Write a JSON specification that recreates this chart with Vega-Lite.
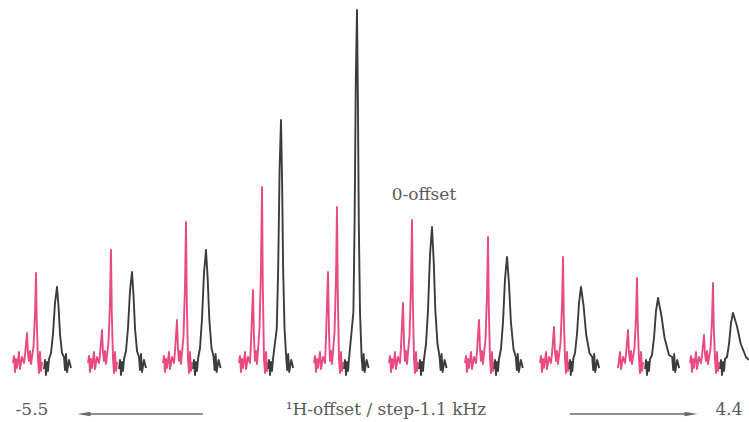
{
"$schema":"https://vega.github.io/schema/vega-lite/v6.json",
"width":749,"height":422,"padding":0,
"autosize":{"type":"fit","contains":"padding"},
"background":"#ffffff",
"config":{"view":{"stroke":null}},
"datasets":{
"spec":[
{"s":"p1","c":"pink","x":13,"y":2},{"s":"p1","c":"pink","x":14,"y":9},{"s":"p1","c":"pink","x":15,"y":-7},{"s":"p1","c":"pink","x":16,"y":6},{"s":"p1","c":"pink","x":17,"y":-3},{"s":"p1","c":"pink","x":19,"y":13},{"s":"p1","c":"pink","x":20,"y":-4},{"s":"p1","c":"pink","x":22,"y":8},{"s":"p1","c":"pink","x":24,"y":2},{"s":"p1","c":"pink","x":25,"y":10},{"s":"p1","c":"pink","x":27,"y":32},{"s":"p1","c":"pink","x":28,"y":11},{"s":"p1","c":"pink","x":29,"y":4},{"s":"p1","c":"pink","x":30,"y":14},{"s":"p1","c":"pink","x":31,"y":1},{"s":"p1","c":"pink","x":33.5,"y":18},{"s":"p1","c":"pink","x":35,"y":51},{"s":"p1","c":"pink","x":36,"y":92},{"s":"p1","c":"pink","x":36.8,"y":41},{"s":"p1","c":"pink","x":38,"y":6},{"s":"p1","c":"pink","x":39,"y":-8},{"s":"p1","c":"pink","x":40,"y":13},{"s":"p1","c":"pink","x":41,"y":-6},{"s":"p1","c":"pink","x":42,"y":3},
{"s":"p2","c":"pink","x":88,"y":2},{"s":"p2","c":"pink","x":89,"y":9},{"s":"p2","c":"pink","x":90,"y":-7},{"s":"p2","c":"pink","x":91,"y":6},{"s":"p2","c":"pink","x":92,"y":-3},{"s":"p2","c":"pink","x":94,"y":13},{"s":"p2","c":"pink","x":95,"y":-4},{"s":"p2","c":"pink","x":97,"y":8},{"s":"p2","c":"pink","x":99,"y":2},{"s":"p2","c":"pink","x":100,"y":11},{"s":"p2","c":"pink","x":102,"y":35},{"s":"p2","c":"pink","x":103,"y":12},{"s":"p2","c":"pink","x":104,"y":4},{"s":"p2","c":"pink","x":105,"y":14},{"s":"p2","c":"pink","x":106,"y":1},{"s":"p2","c":"pink","x":108.5,"y":23},{"s":"p2","c":"pink","x":110,"y":63},{"s":"p2","c":"pink","x":111,"y":115},{"s":"p2","c":"pink","x":111.8,"y":52},{"s":"p2","c":"pink","x":113,"y":6},{"s":"p2","c":"pink","x":114,"y":-8},{"s":"p2","c":"pink","x":115,"y":13},{"s":"p2","c":"pink","x":116,"y":-6},{"s":"p2","c":"pink","x":117,"y":3},
{"s":"p3","c":"pink","x":163,"y":2},{"s":"p3","c":"pink","x":164,"y":9},{"s":"p3","c":"pink","x":165,"y":-7},{"s":"p3","c":"pink","x":166,"y":6},{"s":"p3","c":"pink","x":167,"y":-3},{"s":"p3","c":"pink","x":169,"y":13},{"s":"p3","c":"pink","x":170,"y":-4},{"s":"p3","c":"pink","x":172,"y":8},{"s":"p3","c":"pink","x":174,"y":2},{"s":"p3","c":"pink","x":175,"y":14},{"s":"p3","c":"pink","x":177,"y":45},{"s":"p3","c":"pink","x":178,"y":16},{"s":"p3","c":"pink","x":179,"y":4},{"s":"p3","c":"pink","x":180,"y":14},{"s":"p3","c":"pink","x":181,"y":1},{"s":"p3","c":"pink","x":183.5,"y":29},{"s":"p3","c":"pink","x":185,"y":79},{"s":"p3","c":"pink","x":186,"y":143},{"s":"p3","c":"pink","x":186.8,"y":64},{"s":"p3","c":"pink","x":188,"y":6},{"s":"p3","c":"pink","x":189,"y":-8},{"s":"p3","c":"pink","x":190,"y":13},{"s":"p3","c":"pink","x":191,"y":-6},{"s":"p3","c":"pink","x":192,"y":3},
{"s":"p4","c":"pink","x":239,"y":2},{"s":"p4","c":"pink","x":240,"y":9},{"s":"p4","c":"pink","x":241,"y":-7},{"s":"p4","c":"pink","x":242,"y":6},{"s":"p4","c":"pink","x":243,"y":-3},{"s":"p4","c":"pink","x":245,"y":13},{"s":"p4","c":"pink","x":246,"y":-4},{"s":"p4","c":"pink","x":248,"y":8},{"s":"p4","c":"pink","x":250,"y":2},{"s":"p4","c":"pink","x":251,"y":23},{"s":"p4","c":"pink","x":253,"y":75},{"s":"p4","c":"pink","x":254,"y":26},{"s":"p4","c":"pink","x":255,"y":4},{"s":"p4","c":"pink","x":256,"y":14},{"s":"p4","c":"pink","x":257,"y":1},{"s":"p4","c":"pink","x":259.5,"y":36},{"s":"p4","c":"pink","x":261,"y":98},{"s":"p4","c":"pink","x":262,"y":178},{"s":"p4","c":"pink","x":262.8,"y":80},{"s":"p4","c":"pink","x":264,"y":6},{"s":"p4","c":"pink","x":265,"y":-8},{"s":"p4","c":"pink","x":266,"y":13},{"s":"p4","c":"pink","x":267,"y":-6},{"s":"p4","c":"pink","x":268,"y":3},
{"s":"p5","c":"pink","x":314,"y":2},{"s":"p5","c":"pink","x":315,"y":9},{"s":"p5","c":"pink","x":316,"y":-7},{"s":"p5","c":"pink","x":317,"y":6},{"s":"p5","c":"pink","x":318,"y":-3},{"s":"p5","c":"pink","x":320,"y":13},{"s":"p5","c":"pink","x":321,"y":-4},{"s":"p5","c":"pink","x":323,"y":8},{"s":"p5","c":"pink","x":325,"y":2},{"s":"p5","c":"pink","x":326,"y":28},{"s":"p5","c":"pink","x":328,"y":93},{"s":"p5","c":"pink","x":329,"y":33},{"s":"p5","c":"pink","x":330,"y":4},{"s":"p5","c":"pink","x":331,"y":14},{"s":"p5","c":"pink","x":332,"y":1},{"s":"p5","c":"pink","x":334.5,"y":32},{"s":"p5","c":"pink","x":336,"y":87},{"s":"p5","c":"pink","x":337,"y":158},{"s":"p5","c":"pink","x":337.8,"y":71},{"s":"p5","c":"pink","x":339,"y":6},{"s":"p5","c":"pink","x":340,"y":-8},{"s":"p5","c":"pink","x":341,"y":13},{"s":"p5","c":"pink","x":342,"y":-6},{"s":"p5","c":"pink","x":343,"y":3},
{"s":"p6","c":"pink","x":389,"y":2},{"s":"p6","c":"pink","x":390,"y":9},{"s":"p6","c":"pink","x":391,"y":-7},{"s":"p6","c":"pink","x":392,"y":6},{"s":"p6","c":"pink","x":393,"y":-3},{"s":"p6","c":"pink","x":395,"y":13},{"s":"p6","c":"pink","x":396,"y":-4},{"s":"p6","c":"pink","x":398,"y":8},{"s":"p6","c":"pink","x":400,"y":2},{"s":"p6","c":"pink","x":401,"y":19},{"s":"p6","c":"pink","x":403,"y":62},{"s":"p6","c":"pink","x":404,"y":22},{"s":"p6","c":"pink","x":405,"y":4},{"s":"p6","c":"pink","x":406,"y":14},{"s":"p6","c":"pink","x":407,"y":1},{"s":"p6","c":"pink","x":409.5,"y":29},{"s":"p6","c":"pink","x":411,"y":80},{"s":"p6","c":"pink","x":412,"y":145},{"s":"p6","c":"pink","x":412.8,"y":65},{"s":"p6","c":"pink","x":414,"y":6},{"s":"p6","c":"pink","x":415,"y":-8},{"s":"p6","c":"pink","x":416,"y":13},{"s":"p6","c":"pink","x":417,"y":-6},{"s":"p6","c":"pink","x":418,"y":3},
{"s":"p7","c":"pink","x":465,"y":2},{"s":"p7","c":"pink","x":466,"y":9},{"s":"p7","c":"pink","x":467,"y":-7},{"s":"p7","c":"pink","x":468,"y":6},{"s":"p7","c":"pink","x":469,"y":-3},{"s":"p7","c":"pink","x":471,"y":13},{"s":"p7","c":"pink","x":472,"y":-4},{"s":"p7","c":"pink","x":474,"y":8},{"s":"p7","c":"pink","x":476,"y":2},{"s":"p7","c":"pink","x":477,"y":14},{"s":"p7","c":"pink","x":479,"y":45},{"s":"p7","c":"pink","x":480,"y":16},{"s":"p7","c":"pink","x":481,"y":4},{"s":"p7","c":"pink","x":482,"y":14},{"s":"p7","c":"pink","x":483,"y":1},{"s":"p7","c":"pink","x":485.5,"y":26},{"s":"p7","c":"pink","x":487,"y":70},{"s":"p7","c":"pink","x":488,"y":128},{"s":"p7","c":"pink","x":488.8,"y":58},{"s":"p7","c":"pink","x":490,"y":6},{"s":"p7","c":"pink","x":491,"y":-8},{"s":"p7","c":"pink","x":492,"y":13},{"s":"p7","c":"pink","x":493,"y":-6},{"s":"p7","c":"pink","x":494,"y":3},
{"s":"p8","c":"pink","x":540,"y":2},{"s":"p8","c":"pink","x":541,"y":9},{"s":"p8","c":"pink","x":542,"y":-7},{"s":"p8","c":"pink","x":543,"y":6},{"s":"p8","c":"pink","x":544,"y":-3},{"s":"p8","c":"pink","x":546,"y":13},{"s":"p8","c":"pink","x":547,"y":-4},{"s":"p8","c":"pink","x":549,"y":8},{"s":"p8","c":"pink","x":551,"y":2},{"s":"p8","c":"pink","x":552,"y":11},{"s":"p8","c":"pink","x":554,"y":38},{"s":"p8","c":"pink","x":555,"y":13},{"s":"p8","c":"pink","x":556,"y":4},{"s":"p8","c":"pink","x":557,"y":14},{"s":"p8","c":"pink","x":558,"y":1},{"s":"p8","c":"pink","x":560.5,"y":22},{"s":"p8","c":"pink","x":562,"y":59},{"s":"p8","c":"pink","x":563,"y":108},{"s":"p8","c":"pink","x":563.8,"y":49},{"s":"p8","c":"pink","x":565,"y":6},{"s":"p8","c":"pink","x":566,"y":-8},{"s":"p8","c":"pink","x":567,"y":13},{"s":"p8","c":"pink","x":568,"y":-6},{"s":"p8","c":"pink","x":569,"y":3},
{"s":"p9","c":"pink","x":618,"y":-3},{"s":"p9","c":"pink","x":620,"y":13},{"s":"p9","c":"pink","x":621,"y":-4},{"s":"p9","c":"pink","x":623,"y":8},{"s":"p9","c":"pink","x":625,"y":2},{"s":"p9","c":"pink","x":626,"y":11},{"s":"p9","c":"pink","x":628,"y":35},{"s":"p9","c":"pink","x":629,"y":12},{"s":"p9","c":"pink","x":630,"y":4},{"s":"p9","c":"pink","x":631,"y":14},{"s":"p9","c":"pink","x":632,"y":1},{"s":"p9","c":"pink","x":634.5,"y":17},{"s":"p9","c":"pink","x":636,"y":48},{"s":"p9","c":"pink","x":637,"y":87},{"s":"p9","c":"pink","x":637.8,"y":39},{"s":"p9","c":"pink","x":639,"y":6},{"s":"p9","c":"pink","x":640,"y":-8},{"s":"p9","c":"pink","x":641,"y":13},{"s":"p9","c":"pink","x":642,"y":-6},{"s":"p9","c":"pink","x":643,"y":3},
{"s":"p10","c":"pink","x":690,"y":2},{"s":"p10","c":"pink","x":691,"y":9},{"s":"p10","c":"pink","x":692,"y":-7},{"s":"p10","c":"pink","x":693,"y":6},{"s":"p10","c":"pink","x":694,"y":-3},{"s":"p10","c":"pink","x":696,"y":13},{"s":"p10","c":"pink","x":697,"y":-4},{"s":"p10","c":"pink","x":699,"y":8},{"s":"p10","c":"pink","x":701,"y":2},{"s":"p10","c":"pink","x":702,"y":9},{"s":"p10","c":"pink","x":704,"y":30},{"s":"p10","c":"pink","x":705,"y":11},{"s":"p10","c":"pink","x":706,"y":4},{"s":"p10","c":"pink","x":707,"y":14},{"s":"p10","c":"pink","x":708,"y":1},{"s":"p10","c":"pink","x":710.5,"y":16},{"s":"p10","c":"pink","x":712,"y":45},{"s":"p10","c":"pink","x":713,"y":82},{"s":"p10","c":"pink","x":713.8,"y":37},{"s":"p10","c":"pink","x":715,"y":6},{"s":"p10","c":"pink","x":716,"y":-8},{"s":"p10","c":"pink","x":717,"y":13},{"s":"p10","c":"pink","x":718,"y":-6},{"s":"p10","c":"pink","x":719,"y":3},
{"s":"b1","c":"black","x":44,"y":-4},{"s":"b1","c":"black","x":45,"y":5},{"s":"b1","c":"black","x":46,"y":-10},{"s":"b1","c":"black","x":47,"y":3},{"s":"b1","c":"black","x":48,"y":-6},{"s":"b1","c":"black","x":49,"y":6},{"s":"b1","c":"black","x":51,"y":12},{"s":"b1","c":"black","x":53,"y":31},{"s":"b1","c":"black","x":55,"y":62},{"s":"b1","c":"black","x":57,"y":78},{"s":"b1","c":"black","x":58.5,"y":59},{"s":"b1","c":"black","x":60,"y":31},{"s":"b1","c":"black","x":62,"y":12},{"s":"b1","c":"black","x":64,"y":8},{"s":"b1","c":"black","x":65,"y":-5},{"s":"b1","c":"black","x":66,"y":11},{"s":"b1","c":"black","x":67,"y":-7},{"s":"b1","c":"black","x":69,"y":5},{"s":"b1","c":"black","x":71,"y":-3},
{"s":"b2","c":"black","x":119,"y":-4},{"s":"b2","c":"black","x":120,"y":5},{"s":"b2","c":"black","x":121,"y":-10},{"s":"b2","c":"black","x":122,"y":3},{"s":"b2","c":"black","x":123,"y":-6},{"s":"b2","c":"black","x":124,"y":6},{"s":"b2","c":"black","x":126,"y":14},{"s":"b2","c":"black","x":128,"y":37},{"s":"b2","c":"black","x":130,"y":74},{"s":"b2","c":"black","x":132,"y":93},{"s":"b2","c":"black","x":133.5,"y":70},{"s":"b2","c":"black","x":135,"y":37},{"s":"b2","c":"black","x":137,"y":14},{"s":"b2","c":"black","x":139,"y":8},{"s":"b2","c":"black","x":140,"y":-5},{"s":"b2","c":"black","x":141,"y":11},{"s":"b2","c":"black","x":142,"y":-7},{"s":"b2","c":"black","x":144,"y":5},{"s":"b2","c":"black","x":146,"y":-3},
{"s":"b3","c":"black","x":193,"y":-4},{"s":"b3","c":"black","x":194,"y":5},{"s":"b3","c":"black","x":195,"y":-10},{"s":"b3","c":"black","x":196,"y":3},{"s":"b3","c":"black","x":197,"y":-6},{"s":"b3","c":"black","x":198,"y":6},{"s":"b3","c":"black","x":200,"y":17},{"s":"b3","c":"black","x":202,"y":46},{"s":"b3","c":"black","x":204,"y":92},{"s":"b3","c":"black","x":206,"y":115},{"s":"b3","c":"black","x":207.7,"y":86},{"s":"b3","c":"black","x":209.3,"y":46},{"s":"b3","c":"black","x":211.5,"y":17},{"s":"b3","c":"black","x":213.6,"y":8},{"s":"b3","c":"black","x":214.6,"y":-5},{"s":"b3","c":"black","x":215.6,"y":11},{"s":"b3","c":"black","x":216.6,"y":-7},{"s":"b3","c":"black","x":218.6,"y":5},{"s":"b3","c":"black","x":220.6,"y":-3},
{"s":"b4","c":"black","x":268.5,"y":-4},{"s":"b4","c":"black","x":269,"y":5},{"s":"b4","c":"black","x":270,"y":-10},{"s":"b4","c":"black","x":271,"y":3},{"s":"b4","c":"black","x":272,"y":-6},{"s":"b4","c":"black","x":273,"y":6},{"s":"b4","c":"black","x":276.8,"y":37},{"s":"b4","c":"black","x":278.2,"y":98},{"s":"b4","c":"black","x":279.6,"y":196},{"s":"b4","c":"black","x":281,"y":245},{"s":"b4","c":"black","x":282.1,"y":184},{"s":"b4","c":"black","x":283.1,"y":98},{"s":"b4","c":"black","x":284.5,"y":37},{"s":"b4","c":"black","x":286.2,"y":8},{"s":"b4","c":"black","x":287.2,"y":-5},{"s":"b4","c":"black","x":288.2,"y":11},{"s":"b4","c":"black","x":289.2,"y":-7},{"s":"b4","c":"black","x":291.2,"y":5},{"s":"b4","c":"black","x":293.2,"y":-3},
{"s":"b5","c":"black","x":344,"y":-4},{"s":"b5","c":"black","x":345,"y":5},{"s":"b5","c":"black","x":346,"y":-10},{"s":"b5","c":"black","x":347,"y":3},{"s":"b5","c":"black","x":348,"y":-6},{"s":"b5","c":"black","x":349,"y":6},{"s":"b5","c":"black","x":353.4,"y":53},{"s":"b5","c":"black","x":354.6,"y":142},{"s":"b5","c":"black","x":355.8,"y":284},{"s":"b5","c":"black","x":357,"y":355},{"s":"b5","c":"black","x":357.9,"y":266},{"s":"b5","c":"black","x":358.8,"y":142},{"s":"b5","c":"black","x":360,"y":53},{"s":"b5","c":"black","x":361.6,"y":8},{"s":"b5","c":"black","x":362.6,"y":-5},{"s":"b5","c":"black","x":363.6,"y":11},{"s":"b5","c":"black","x":364.6,"y":-7},{"s":"b5","c":"black","x":366.6,"y":5},{"s":"b5","c":"black","x":368.6,"y":-3},
{"s":"b6","c":"black","x":419,"y":-4},{"s":"b6","c":"black","x":420,"y":5},{"s":"b6","c":"black","x":421,"y":-10},{"s":"b6","c":"black","x":422,"y":3},{"s":"b6","c":"black","x":423,"y":-6},{"s":"b6","c":"black","x":424,"y":6},{"s":"b6","c":"black","x":426,"y":21},{"s":"b6","c":"black","x":428,"y":55},{"s":"b6","c":"black","x":430,"y":110},{"s":"b6","c":"black","x":432,"y":138},{"s":"b6","c":"black","x":433.7,"y":104},{"s":"b6","c":"black","x":435.3,"y":55},{"s":"b6","c":"black","x":437.5,"y":21},{"s":"b6","c":"black","x":439.6,"y":8},{"s":"b6","c":"black","x":440.6,"y":-5},{"s":"b6","c":"black","x":441.6,"y":11},{"s":"b6","c":"black","x":442.6,"y":-7},{"s":"b6","c":"black","x":444.6,"y":5},{"s":"b6","c":"black","x":446.6,"y":-3},
{"s":"b7","c":"black","x":494.5,"y":-4},{"s":"b7","c":"black","x":495,"y":5},{"s":"b7","c":"black","x":496,"y":-10},{"s":"b7","c":"black","x":497,"y":3},{"s":"b7","c":"black","x":498,"y":-6},{"s":"b7","c":"black","x":499,"y":6},{"s":"b7","c":"black","x":501,"y":16},{"s":"b7","c":"black","x":503,"y":43},{"s":"b7","c":"black","x":505,"y":86},{"s":"b7","c":"black","x":507,"y":108},{"s":"b7","c":"black","x":509,"y":81},{"s":"b7","c":"black","x":510.9,"y":43},{"s":"b7","c":"black","x":513.5,"y":16},{"s":"b7","c":"black","x":515.8,"y":8},{"s":"b7","c":"black","x":516.8,"y":-5},{"s":"b7","c":"black","x":517.8,"y":11},{"s":"b7","c":"black","x":518.8,"y":-7},{"s":"b7","c":"black","x":520.8,"y":5},{"s":"b7","c":"black","x":522.8,"y":-3},
{"s":"b8","c":"black","x":569.5,"y":-4},{"s":"b8","c":"black","x":570,"y":5},{"s":"b8","c":"black","x":570.8,"y":-10},{"s":"b8","c":"black","x":571.6,"y":3},{"s":"b8","c":"black","x":572.4,"y":-6},{"s":"b8","c":"black","x":573.2,"y":6},{"s":"b8","c":"black","x":575,"y":12},{"s":"b8","c":"black","x":577,"y":31},{"s":"b8","c":"black","x":579,"y":62},{"s":"b8","c":"black","x":581,"y":78},{"s":"b8","c":"black","x":583.6,"y":59},{"s":"b8","c":"black","x":586.1,"y":31},{"s":"b8","c":"black","x":589.5,"y":12},{"s":"b8","c":"black","x":592.2,"y":8},{"s":"b8","c":"black","x":593.2,"y":-5},{"s":"b8","c":"black","x":594.2,"y":11},{"s":"b8","c":"black","x":595.2,"y":-7},{"s":"b8","c":"black","x":597.2,"y":5},{"s":"b8","c":"black","x":599.2,"y":-3},
{"s":"b9","c":"black","x":645,"y":-4},{"s":"b9","c":"black","x":646,"y":5},{"s":"b9","c":"black","x":647,"y":-10},{"s":"b9","c":"black","x":648,"y":3},{"s":"b9","c":"black","x":649,"y":-6},{"s":"b9","c":"black","x":650,"y":6},{"s":"b9","c":"black","x":652,"y":10},{"s":"b9","c":"black","x":654,"y":27},{"s":"b9","c":"black","x":656,"y":54},{"s":"b9","c":"black","x":658,"y":67},{"s":"b9","c":"black","x":661.3,"y":50},{"s":"b9","c":"black","x":664.6,"y":27},{"s":"b9","c":"black","x":669,"y":10},{"s":"b9","c":"black","x":672.2,"y":8},{"s":"b9","c":"black","x":673.2,"y":-5},{"s":"b9","c":"black","x":674.2,"y":11},{"s":"b9","c":"black","x":675.2,"y":-7},{"s":"b9","c":"black","x":677.2,"y":5},{"s":"b9","c":"black","x":679.2,"y":-3},
{"s":"b10","c":"black","x":720,"y":-4},{"s":"b10","c":"black","x":721,"y":5},{"s":"b10","c":"black","x":722,"y":-10},{"s":"b10","c":"black","x":723,"y":3},{"s":"b10","c":"black","x":724,"y":-6},{"s":"b10","c":"black","x":725,"y":6},{"s":"b10","c":"black","x":727,"y":8},{"s":"b10","c":"black","x":729,"y":21},{"s":"b10","c":"black","x":731,"y":42},{"s":"b10","c":"black","x":733,"y":52},{"s":"b10","c":"black","x":736.9,"y":39},{"s":"b10","c":"black","x":740.8,"y":21},{"s":"b10","c":"black","x":746,"y":8},{"s":"b10","c":"black","x":749,"y":5}
],
"labels":[
{"t":"0-offset","x":424,"y":170},
{"t":"-5.5","x":32,"y":-45},
{"t":"¹H-offset / step-1.1 kHz","x":386,"y":-45},
{"t":"4.4","x":729,"y":-45}
],
"arrows":[
{"d":"left","x":84,"x2":203,"y":-49},
{"d":"right","x":570,"x2":691,"y":-49}
]
},
"layer":[
{"data":{"name":"spec"},
 "mark":{"type":"line","strokeWidth":1.9,"strokeJoin":"round","clip":true},
 "encoding":{
  "x":{"field":"x","type":"quantitative","scale":{"domain":[0,749],"nice":false,"zero":false},"axis":null},
  "y":{"field":"y","type":"quantitative","scale":{"domain":[-57,365],"nice":false,"zero":false},"axis":null},
  "detail":{"field":"s","type":"nominal"},
  "color":{"field":"c","type":"nominal","scale":{"domain":["pink","black"],"range":["#ea4a82","#3c3c3c"]},"legend":null}
 }},
{"data":{"name":"arrows"},
 "mark":{"type":"rule","color":"#6a6a6a","strokeWidth":1.3},
 "encoding":{
  "x":{"field":"x","type":"quantitative"},
  "x2":{"field":"x2"},
  "y":{"field":"y","type":"quantitative"}
 }},
{"data":{"name":"arrows"},
 "transform":[{"filter":"datum.d == 'left'"}],
 "mark":{"type":"point","shape":"M-1,0L1,-0.35L1,0.35Z","filled":true,"color":"#6a6a6a","opacity":1,"size":170},
 "encoding":{
  "x":{"field":"x","type":"quantitative"},
  "y":{"field":"y","type":"quantitative"}
 }},
{"data":{"name":"arrows"},
 "transform":[{"filter":"datum.d == 'right'"}],
 "mark":{"type":"point","shape":"M1,0L-1,-0.35L-1,0.35Z","filled":true,"color":"#6a6a6a","opacity":1,"size":170},
 "encoding":{
  "x":{"field":"x2","type":"quantitative"},
  "y":{"field":"y","type":"quantitative"}
 }},
{"data":{"name":"labels"},
 "mark":{"type":"text","font":"DejaVu Serif","fontSize":17,"color":"#5a5a5a","align":"center","baseline":"middle"},
 "encoding":{
  "x":{"field":"x","type":"quantitative"},
  "y":{"field":"y","type":"quantitative"},
  "text":{"field":"t"}
 }}
]
}
